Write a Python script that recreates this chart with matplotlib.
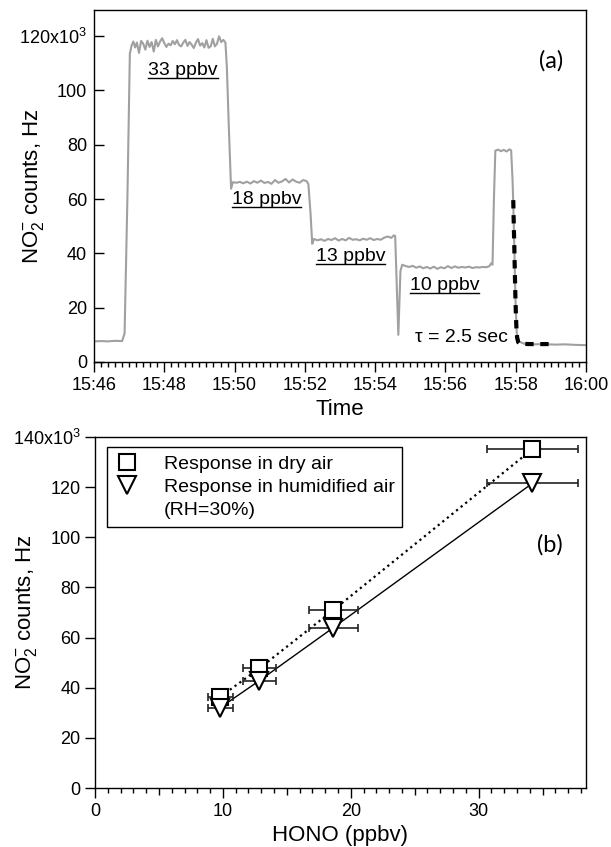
import matplotlib.pyplot as plt
from matplotlib.lines import Line2D
from matplotlib.ticker import MultipleLocator, FixedLocator

plt.rcParams['font.family'] = ['Liberation Sans', 'DejaVu Sans']
plt.rcParams['mathtext.fontset'] = 'custom'
plt.rcParams['mathtext.rm'] = 'Liberation Sans'
plt.rcParams['mathtext.it'] = 'Liberation Sans:italic'

# ---- panel (a): NO2- signal, time in minutes after 15:46, counts in kHz ----
t_min = [0.0, 0.2, 0.4, 0.6, 0.8, 0.87, 0.95, 1.02,
         1.07, 1.12, 1.17, 1.22, 1.28, 1.34, 1.40, 1.46, 1.52, 1.58, 1.64, 1.70,
         1.76, 1.82, 1.88, 1.94, 2.00, 2.06, 2.12, 2.18, 2.24, 2.30, 2.36, 2.42,
         2.48, 2.54, 2.60, 2.66, 2.72, 2.78, 2.84, 2.90, 2.96, 3.02, 3.08, 3.14,
         3.20, 3.26, 3.32, 3.38, 3.44, 3.50, 3.56, 3.62, 3.68, 3.74,
         3.78, 3.83, 3.90,
         3.95, 4.05, 4.15, 4.25, 4.35, 4.45, 4.55, 4.65, 4.75, 4.85, 4.95, 5.05,
         5.15, 5.25, 5.35, 5.45, 5.55, 5.65, 5.75, 5.85, 5.95, 6.05, 6.10,
         6.16, 6.21,
         6.26, 6.36, 6.46, 6.56, 6.66, 6.76, 6.86, 6.96, 7.06, 7.16, 7.26, 7.36,
         7.46, 7.56, 7.66, 7.76, 7.86, 7.96, 8.06, 8.16, 8.26, 8.36, 8.46, 8.53, 8.57,
         8.66, 8.72, 8.77,
         8.87, 8.97, 9.07, 9.17, 9.27, 9.37, 9.47, 9.57, 9.67, 9.77, 9.87, 9.97,
         10.07, 10.17, 10.27, 10.37, 10.47, 10.57, 10.67, 10.77, 10.87, 10.97,
         11.07, 11.17, 11.25, 11.30, 11.34,
         11.38, 11.42,
         11.50, 11.58, 11.66, 11.74, 11.82, 11.87,
         11.91, 11.93, 11.96, 11.99, 12.03, 12.10, 12.27,
         12.5, 12.8, 13.1, 13.4, 13.7, 14.0]
counts = [7.6, 7.7, 7.6, 7.8, 7.7, 10.5, 60.0, 113.5,
          116.5, 118.0, 115.8, 117.6, 113.8, 118.2, 117.2, 115.0, 118.3, 116.0, 117.8, 114.3,
          118.6, 116.2, 118.0, 119.2, 117.4, 116.0, 117.2, 116.6, 118.2, 117.0, 118.5, 116.7,
          116.2, 117.6, 118.6, 116.4, 117.8, 116.8, 115.6, 117.6, 118.9, 116.5, 117.4, 115.8,
          118.5, 115.7, 116.2, 119.0, 116.2, 117.2, 119.9, 117.8, 118.6, 117.6,
          108.7, 89.0, 63.8,
          66.2, 66.0, 66.3, 65.8, 66.4, 65.7, 66.6, 66.0, 66.8, 65.9, 66.3, 65.6,
          67.0, 66.0, 66.5, 67.4, 66.1, 67.2, 66.4, 66.0, 67.0, 66.6, 65.5,
          55.0, 43.5,
          45.3, 44.8, 45.2, 44.6, 45.3, 44.9, 45.6, 44.7, 45.3, 44.8, 45.7, 45.0,
          45.2, 44.8, 45.4, 45.0, 45.6, 44.9, 45.3, 45.0, 45.8, 46.2, 45.7, 46.6, 46.4,
          10.0, 33.5, 35.8,
          35.3, 35.0, 35.4, 34.7, 35.2, 34.5, 35.0, 34.4, 35.1, 34.3, 34.9, 34.5,
          35.3, 34.6, 35.2, 34.7, 35.0, 34.8, 35.1, 34.6, 34.9, 34.8,
          35.0, 34.9, 35.3, 36.3, 35.8,
          60.0, 77.8,
          78.2, 77.6, 78.1, 77.5, 78.3, 77.9,
          67.0, 58.4, 42.4, 24.0, 10.5, 7.5, 6.6,
          6.5, 6.6, 6.4, 6.5, 6.3, 6.2]

# exponential decay fit (tau = 2.5 s)
fit_t = [11.93, 11.945, 11.96, 11.975, 11.99, 12.005, 12.02, 12.04, 12.07, 12.12, 12.4, 13.03]
fit_counts = [59.6, 50.5, 42.4, 33.0, 24.5, 17.5, 12.5, 9.0, 7.3, 6.7, 6.6, 6.6]

time_ticks = [0, 2, 4, 6, 8, 10, 12, 14]
time_labels = ['15:46', '15:48', '15:50', '15:52', '15:54', '15:56', '15:58', '16:00']
a_yticks = [0, 20, 40, 60, 80, 100, 120]
a_ylabels = ['0', '20', '40', '60', '80', '100', '120x10$^3$']
step_labels = ['33 ppbv', '18 ppbv', '13 ppbv', '10 ppbv']

# ---- panel (b): calibration ----
hono_dry = [9.8, 12.85, 18.65, 34.2]
counts_dry = [36.4, 47.7, 71.0, 135.1]
hono_humid = [9.8, 12.85, 18.65, 34.2]
counts_humid = [32.1, 42.8, 64.0, 121.5]
hono_err = [0.98, 1.27, 1.88, 3.56]
b_yticks = [0, 20, 40, 60, 80, 100, 120, 140]
b_ylabels = ['0', '20', '40', '60', '80', '100', '120', '140x10$^3$']
b_xticks = [0, 5, 10, 15, 20, 25, 30, 35]
b_xlabels = ['0', '', '10', '', '20', '', '30', '']

ylab = 'NO$_2^{-}$ counts, Hz'

fig = plt.figure(figsize=(6.11, 8.47), dpi=100)
W, H = 611, 847

# ---------------- panel (a) ----------------
ax1 = fig.add_axes([94 / W, 1 - 362 / H, 492 / W, 352 / H])
ax1.plot(t_min, counts, color='#a0a0a0', lw=1.5)
ax1.plot(fit_t, fit_counts, color='black', lw=3, linestyle=(0, (2.0, 1.6)))
ax1.set_xlim(0, 14)
ax1.set_ylim(0, 129.6)
ax1.xaxis.set_major_locator(FixedLocator(time_ticks))
ax1.set_xticklabels(time_labels)
ax1.xaxis.set_minor_locator(MultipleLocator(0.2))
ax1.yaxis.set_major_locator(FixedLocator(a_yticks))
ax1.set_yticklabels(a_ylabels)
ax1.tick_params(axis='x', which='major', direction='out', length=7, width=1, labelsize=13, pad=4)
ax1.tick_params(axis='x', which='minor', direction='out', length=3.6, width=1)
ax1.tick_params(axis='y', which='major', direction='in', length=7, width=1, labelsize=13, pad=5)
ax1.set_xlabel('Time', fontsize=16)
ax1.set_ylabel(ylab, fontsize=16)
ax1.xaxis.set_label_coords(0.5, -0.105)
ax1.yaxis.set_label_coords(-0.098, 0.5)

step_pos = [(0.110, 0.827), (0.280, 0.463), (0.451, 0.301), (0.642, 0.216)]
step_texts = []
for lab, (px, py) in zip(step_labels, step_pos):
    step_texts.append(ax1.text(px, py, lab, transform=ax1.transAxes, fontsize=14,
                               ha='left', va='center'))
ax1.text(0.652, 0.071, 'τ = 2.5 sec', transform=ax1.transAxes, fontsize=14,
         ha='left', va='center')
ax1.text(0.929, 0.855, '(a)', transform=ax1.transAxes, fontsize=17,
         ha='center', va='center', family=['Lato', 'DejaVu Sans'])

# ---------------- panel (b) ----------------
ax2 = fig.add_axes([95 / W, 1 - 788 / H, 491 / W, 351 / H])
ax2.plot(hono_dry, counts_dry, color='black', lw=1.6, linestyle=':', zorder=2)
ax2.plot(hono_humid, counts_humid, color='black', lw=1.0, zorder=2)
ax2.errorbar(hono_dry, counts_dry, xerr=hono_err, fmt='none', ecolor='#222222',
             elinewidth=1.2, capsize=3, capthick=1.2, zorder=3)
ax2.errorbar(hono_humid, counts_humid, xerr=hono_err, fmt='none', ecolor='#222222',
             elinewidth=1.2, capsize=3, capthick=1.2, zorder=3)
ax2.plot(hono_dry, counts_dry, linestyle='none', marker='s', markersize=11,
         markerfacecolor='white', markeredgecolor='black', markeredgewidth=1.5, zorder=4)
ax2.plot(hono_humid, counts_humid, linestyle='none', marker='v', markersize=13,
         markerfacecolor='white', markeredgecolor='black', markeredgewidth=1.5, zorder=4)
ax2.set_xlim(0, 38.4)
ax2.set_ylim(0, 140)
ax2.xaxis.set_major_locator(FixedLocator(b_xticks))
ax2.set_xticklabels(b_xlabels)
ax2.xaxis.set_minor_locator(MultipleLocator(1))
ax2.yaxis.set_major_locator(FixedLocator(b_yticks))
ax2.set_yticklabels(b_ylabels)
ax2.tick_params(axis='x', which='major', direction='out', length=7, width=1, labelsize=13, pad=3.5)
ax2.tick_params(axis='x', which='minor', direction='out', length=3.6, width=1)
ax2.tick_params(axis='y', which='major', direction='out', length=7, width=1, labelsize=13, pad=3.5)
for tk in ax2.xaxis.get_major_ticks():
    if tk.get_loc() % 10 != 0:
        tk.tick1line.set_markersize(5)
ax2.set_xlabel('HONO (ppbv)', fontsize=16)
ax2.set_ylabel(ylab, fontsize=16)
ax2.xaxis.set_label_coords(0.5, -0.105)
ax2.yaxis.set_label_coords(-0.114, 0.5)
ax2.text(0.927, 0.692, '(b)', transform=ax2.transAxes, fontsize=17,
         ha='center', va='center', family=['Lato', 'DejaVu Sans'])

handles = [
    Line2D([], [], linestyle='none', marker='s', markersize=11, markerfacecolor='white',
           markeredgecolor='black', markeredgewidth=1.5),
    Line2D([], [], linestyle='none', marker='v', markersize=13, markerfacecolor='white',
           markeredgecolor='black', markeredgewidth=1.5),
    Line2D([], [], linestyle='none'),
]
labels = ['Response in dry air', 'Response in humidified air', '(RH=30%)']
leg = ax2.legend(handles, labels, loc='upper left', bbox_to_anchor=(0.025, 0.971),
                 borderaxespad=0, fontsize=14, frameon=True, fancybox=False,
                 edgecolor='black', framealpha=1, handlelength=1.2, handletextpad=1.3,
                 labelspacing=0.3, borderpad=0.4)
leg.get_frame().set_linewidth(1.0)

for ax in (ax1, ax2):
    for sp in ax.spines.values():
        sp.set_linewidth(1.0)

# underline the concentration labels
fig.canvas.draw()
renderer = fig.canvas.get_renderer()
for txt in step_texts:
    bb = txt.get_window_extent(renderer)
    fig.add_artist(Line2D([bb.x0 / W, bb.x1 / W], [(bb.y0 + 1) / H, (bb.y0 + 1) / H],
                          transform=fig.transFigure, color='black', lw=1.0))

fig.savefig('out.png', dpi=100)
